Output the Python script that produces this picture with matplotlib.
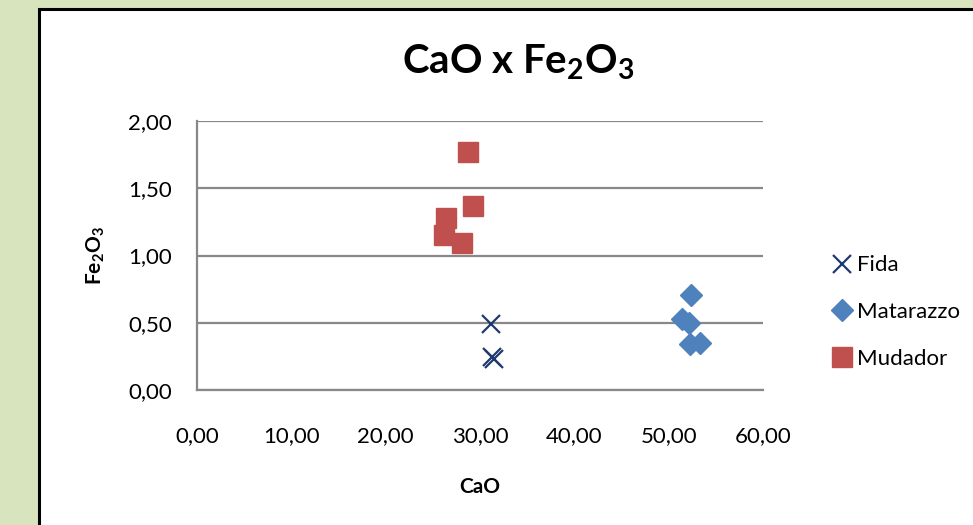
import matplotlib.pyplot as plt
from matplotlib.patches import Rectangle
from matplotlib.ticker import FuncFormatter

plt.rcParams['font.family'] = ['Lato', 'DejaVu Sans']
plt.rcParams['mathtext.fontset'] = 'custom'
plt.rcParams['mathtext.rm'] = 'Lato'
plt.rcParams['mathtext.bf'] = 'Lato:bold'
plt.rcParams['mathtext.it'] = 'Lato:italic'

# CaO vs Fe2O3 per quarry
fida_cao = [31.2, 31.45, 31.25]
fida_fe = [0.49, 0.23, 0.245]

matarazzo_cao = [52.4, 51.4, 52.2, 52.3, 53.3]
matarazzo_fe = [0.71, 0.53, 0.50, 0.34, 0.35]

mudador_cao = [28.7, 29.3, 26.4, 26.2, 28.1]
mudador_fe = [1.77, 1.37, 1.28, 1.15, 1.09]

x_ticks = [0, 10, 20, 30, 40, 50, 60]
y_ticks = [0, 0.5, 1.0, 1.5, 2.0]

fig = plt.figure(figsize=(9.73, 5.25), dpi=100)
fig.patch.set_facecolor('#D7E4BD')

# white chart panel with dark border
panel = Rectangle((39 / 973, -0.05), 1.0, 1 - 9 / 525 + 0.05,
                  transform=fig.transFigure, facecolor='white',
                  edgecolor='black', linewidth=2.2, zorder=-10)
fig.add_artist(panel)

ax = fig.add_axes([197 / 973, 1 - 390 / 525, 566 / 973, 269 / 525])
ax.set_facecolor('none')

ax.plot(fida_cao, fida_fe, linestyle='none', marker='x', markersize=13,
        markeredgewidth=1.6, color='#1F3A6E', label='Fida', zorder=3)
ax.plot(matarazzo_cao, matarazzo_fe, linestyle='none', marker='D', markersize=11,
        color='#4F81BD', label='Matarazzo', zorder=3)
ax.plot(mudador_cao, mudador_fe, linestyle='none', marker='s', markersize=14,
        color='#C0504D', label='Mudador', zorder=3)

ax.set_xlim(0, 60)
ax.set_ylim(0, 2)
ax.set_xticks(x_ticks)
ax.set_yticks(y_ticks)
comma = FuncFormatter(lambda v, p: f'{v:.2f}'.replace('.', ','))
ax.xaxis.set_major_formatter(comma)
ax.yaxis.set_major_formatter(comma)
ax.tick_params(axis='both', length=0, labelsize=16)
ax.tick_params(axis='x', pad=26)
ax.tick_params(axis='y', pad=18)

ax.grid(axis='y', color='#888888', linewidth=1.6)
ax.set_axisbelow(True)
for side in ['top', 'right']:
    ax.spines[side].set_visible(False)
for side in ['left', 'bottom']:
    ax.spines[side].set_color('#888888')
    ax.spines[side].set_linewidth(1.6)

fig.text(518 / 973, 1 - 62 / 525, r'CaO x Fe$_\mathbf{2}$O$_\mathbf{3}$',
         fontsize=29, fontweight='bold', ha='center', va='center')
ax.set_xlabel('CaO', fontsize=15, fontweight='bold', labelpad=22)
ax.set_ylabel(r'Fe$_\mathbf{2}$O$_\mathbf{3}$', fontsize=15,
              fontweight='bold', labelpad=15)

ax.legend(loc='center left', bbox_to_anchor=(1.1, 0.29), frameon=False,
          fontsize=16, handletextpad=0.1, labelspacing=1.2,
          handlelength=1.2, borderaxespad=0)

fig.savefig('out.png', dpi=100)
